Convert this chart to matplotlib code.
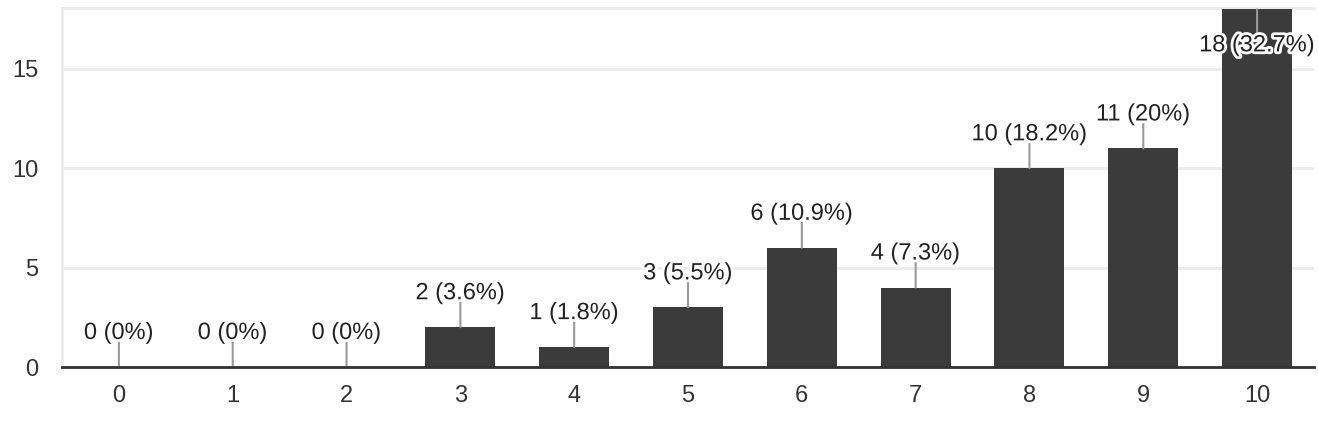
import numpy as np
import matplotlib.pyplot as plt
import matplotlib.patheffects as pe

plt.rcParams['font.family'] = ['Liberation Sans', 'DejaVu Sans']

categories = ['0', '1', '2', '3', '4', '5', '6', '7', '8', '9', '10']
counts = [0, 0, 0, 2, 1, 3, 6, 4, 10, 11, 18]
percents = ['0%', '0%', '0%', '3.6%', '1.8%', '5.5%', '10.9%', '7.3%', '18.2%', '20%', '32.7%']

fig = plt.figure(figsize=(13.18, 4.22), dpi=100)
ax = fig.add_axes([62 / 1318, 55 / 422, 1252 / 1318, 359 / 422])

x = np.arange(len(categories))
ax.bar(x, counts, width=0.615, color='#3b3b3b', zorder=3)

ymax = 18.07
ax.set_xlim(-0.5, 10.5)
ax.set_ylim(0, ymax)

# gridlines
ax.set_yticks([0, 5, 10, 15])
ax.yaxis.grid(True, color='#ebebeb', linewidth=2)
ax.set_axisbelow(True)
ax.axhline(ymax, color='#ebebeb', linewidth=2, clip_on=False)

for s in ['top', 'right']:
    ax.spines[s].set_visible(False)
ax.spines['left'].set_color('#ebebeb')
ax.spines['left'].set_linewidth(2)
ax.spines['bottom'].set_color('#333333')
ax.spines['bottom'].set_linewidth(2)
ax.spines['bottom'].set_zorder(4)

ax.set_xticks(x)
ax.set_xticklabels(categories)
ax.tick_params(axis='both', length=0, labelsize=17, labelcolor='#333333')
ax.tick_params(axis='x', pad=13)
ax.tick_params(axis='y', pad=17)

stroke = [pe.withStroke(linewidth=4, foreground='white')]
px = 0.72  # points per pixel
for xi, c, p in zip(x, counts, percents):
    label = f'{c} ({p})'
    if c + 2.5 < ymax:
        ax.annotate('', xy=(xi, c), xytext=(0, 25 * px), textcoords='offset points',
                    arrowprops=dict(arrowstyle='-', color='#999999', lw=1.5,
                                    shrinkA=0, shrinkB=0), zorder=4)
        ax.annotate(label, xy=(xi, c), xytext=(0, 28 * px), textcoords='offset points',
                    ha='center', va='baseline', fontsize=17, color='#222222',
                    path_effects=stroke, zorder=5)
    else:
        ax.annotate('', xy=(xi, c), xytext=(0, -23 * px), textcoords='offset points',
                    arrowprops=dict(arrowstyle='-', color='#999999', lw=1.5,
                                    shrinkA=0, shrinkB=0), zorder=4)
        ax.annotate(label, xy=(xi, c), xytext=(0, -25 * px), textcoords='offset points',
                    ha='center', va='top', fontsize=17, color='#222222',
                    path_effects=stroke, zorder=5)

fig.savefig('out.png', dpi=100)
